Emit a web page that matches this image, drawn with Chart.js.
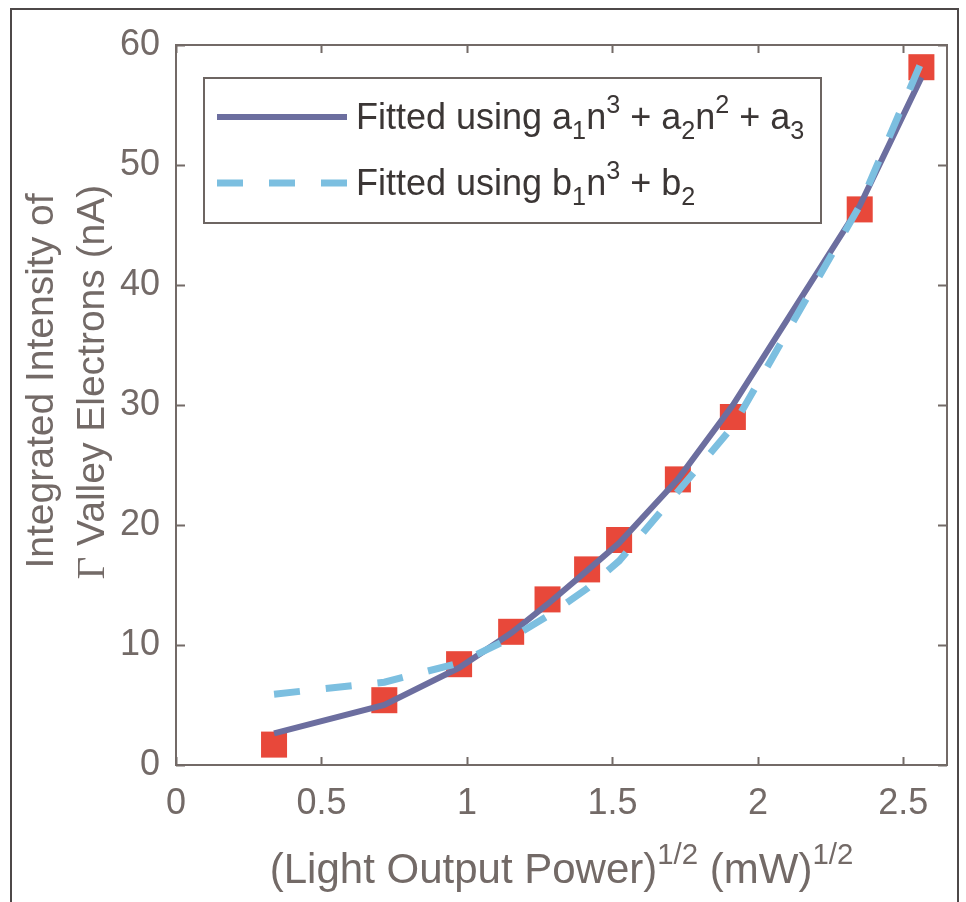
<!DOCTYPE html>
<html>
<head>
<meta charset="utf-8">
<script src="https://cdn.jsdelivr.net/npm/chart.js@4.4.1/dist/chart.umd.min.js"></script>
<style>
  html, body { margin: 0; padding: 0; background: #fff; }
  #wrap { width: 966px; height: 902px; }
</style>
</head>
<body>
<div id="wrap"><canvas id="fitChart" width="966" height="902"></canvas></div>
<script>
// values
const powerRoot = [0.337, 0.716, 0.973, 1.152, 1.277, 1.413, 1.523, 1.725, 1.914, 2.350, 2.562];
const measured = [1.7, 5.4, 8.4, 11.1, 13.8, 16.3, 18.75, 23.8, 29.0, 46.3, 58.15];
const fitA = [2.64, 5.0, 8.1, 11.0, 13.4, 16.2, 18.5, 23.8, 30.0, 46.6, 57.3];
const fitB = [5.9, 6.9, 8.5, 10.6, 12.4, 14.7, 17.0, 22.8, 28.2, 46.6, 58.6];
const xTicks = [0, 0.5, 1, 1.5, 2, 2.5];
const yTicks = [0, 10, 20, 30, 40, 50, 60];

const SANS = '"Liberation Sans", Arial, Helvetica, sans-serif';
const SERIF = '"Liberation Serif", "Times New Roman", serif';
const AXIS_GREY = '#736a67';
const TEXT_DARK = '#3b3635';
const SOLID_COLOR = '#6c6e9f';
const DASH_COLOR = '#7cbfe0';
const RED = '#e8483a';

const toPoints = ys => powerRoot.map((x, i) => ({ x: x, y: ys[i] }));

// draw text made of parts, some of them sub/superscript
function richWidth(ctx, parts, size) {
    let w = 0;
    parts.forEach(p => {
        const s = (p.sub || p.sup) ? size * 0.7 : size;
        ctx.font = s + 'px ' + (p.serif ? SERIF : SANS);
        w += ctx.measureText(p.t).width;
    });
    return w;
}

function drawRich(ctx, parts, x, y, size, align) {
    let cx = x;
    if (align === 'center') cx = x - richWidth(ctx, parts, size) / 2;
    ctx.textAlign = 'left';
    ctx.textBaseline = 'alphabetic';
    parts.forEach(p => {
        const s = (p.sub || p.sup) ? size * 0.7 : size;
        ctx.font = s + 'px ' + (p.serif ? SERIF : SANS);
        let dy = 0;
        if (p.sub) dy = size * 0.27;
        if (p.sup) dy = -size * 0.45;
        ctx.fillText(p.t, cx, y + dy);
        cx += ctx.measureText(p.t).width;
    });
}

const decorPlugin = {
    id: 'decor',
    beforeDatasetsDraw(chart) {
        const { ctx, chartArea: a, scales } = chart;
        ctx.save();
        // axes box
        ctx.strokeStyle = AXIS_GREY;
        ctx.lineWidth = 2;
        ctx.strokeRect(a.left, a.top, a.right - a.left, a.bottom - a.top);
        // inward ticks on all four sides
        ctx.beginPath();
        xTicks.forEach(v => {
            const px = Math.round(scales.x.getPixelForValue(v)) + 0.5;
            ctx.moveTo(px, a.bottom); ctx.lineTo(px, a.bottom - 8);
            ctx.moveTo(px, a.top); ctx.lineTo(px, a.top + 8);
        });
        yTicks.forEach(v => {
            const py = Math.round(scales.y.getPixelForValue(v)) + 0.5;
            ctx.moveTo(a.left, py); ctx.lineTo(a.left + 9, py);
            ctx.moveTo(a.right, py); ctx.lineTo(a.right - 9, py);
        });
        ctx.stroke();
        ctx.restore();
    },
    afterDraw(chart) {
        const { ctx, chartArea: a } = chart;
        ctx.save();

        // outer frame
        ctx.strokeStyle = '#4d4848';
        ctx.lineWidth = 2;
        ctx.beginPath();
        ctx.moveTo(11, 905); ctx.lineTo(11, 9); ctx.lineTo(958, 9); ctx.lineTo(958, 905);
        ctx.stroke();

        // x title
        ctx.fillStyle = AXIS_GREY;
        const cx = (a.left + a.right) / 2;
        drawRich(ctx, [
            { t: '(Light Output Power)' }, { t: '1/2', sup: true },
            { t: ' (mW)' }, { t: '1/2', sup: true }
        ], cx, 883, 42, 'center');

        // y title, two lines
        const yTitle1 = [{ t: 'Integrated Intensity of' }];
        const yTitle2 = [{ t: 'Γ', serif: true }, { t: ' Valley Electrons (nA)' }];
        ctx.save();
        ctx.translate(53, 381);
        ctx.rotate(-Math.PI / 2);
        drawRich(ctx, yTitle1, 0, 0, 39, 'center');
        ctx.restore();
        ctx.save();
        ctx.translate(104, 382);
        ctx.rotate(-Math.PI / 2);
        drawRich(ctx, yTitle2, 0, 0, 39, 'center');
        ctx.restore();

        // legend box
        const lx = 204, ly = 78, lw = 617, lh = 145;
        ctx.fillStyle = '#fff';
        ctx.fillRect(lx, ly, lw, lh);
        ctx.strokeStyle = '#6d6562';
        ctx.lineWidth = 2;
        ctx.strokeRect(lx, ly, lw, lh);

        const ds = chart.data.datasets;
        ctx.lineCap = 'butt';
        ctx.strokeStyle = ds[0].borderColor;
        ctx.lineWidth = ds[0].borderWidth;
        ctx.beginPath(); ctx.moveTo(217, 117); ctx.lineTo(347, 117); ctx.stroke();
        ctx.strokeStyle = ds[1].borderColor;
        ctx.lineWidth = ds[1].borderWidth;
        ctx.setLineDash(ds[1].borderDash);
        ctx.beginPath(); ctx.moveTo(217, 183); ctx.lineTo(347, 183); ctx.stroke();
        ctx.setLineDash([]);

        ctx.fillStyle = TEXT_DARK;
        drawRich(ctx, [
            { t: 'Fitted using a' }, { t: '1', sub: true }, { t: 'n' }, { t: '3', sup: true },
            { t: ' + a' }, { t: '2', sub: true }, { t: 'n' }, { t: '2', sup: true },
            { t: ' + a' }, { t: '3', sub: true }
        ], 356, 129, 36, 'left');
        drawRich(ctx, [
            { t: 'Fitted using b' }, { t: '1', sub: true }, { t: 'n' }, { t: '3', sup: true },
            { t: ' + b' }, { t: '2', sub: true }
        ], 356, 195, 36, 'left');

        ctx.restore();
    }
};

new Chart(document.getElementById('fitChart'), {
    type: 'scatter',
    data: {
        datasets: [
            {
                label: 'Fitted using a1n3 + a2n2 + a3',
                data: toPoints(fitA),
                showLine: true,
                borderColor: SOLID_COLOR,
                borderWidth: 6,
                pointRadius: 0,
                tension: 0,
                order: 2
            },
            {
                label: 'Fitted using b1n3 + b2',
                data: toPoints(fitB),
                showLine: true,
                borderColor: DASH_COLOR,
                borderWidth: 7,
                borderDash: [26, 26],
                pointRadius: 0,
                tension: 0,
                order: 1
            },
            {
                label: 'Measured',
                data: toPoints(measured),
                pointStyle: 'rect',
                pointRadius: 18.4,
                backgroundColor: RED,
                borderWidth: 0,
                order: 3
            }
        ]
    },
    options: {
        responsive: false,
        animation: false,
        events: [],
        layout: { padding: { top: 45, right: 19, left: 0, bottom: 0 } },
        plugins: {
            legend: { display: false },
            tooltip: { enabled: false },
            title: { display: false }
        },
        scales: {
            x: {
                type: 'linear',
                min: 0,
                max: 2.65,
                afterBuildTicks: scale => { scale.ticks = xTicks.map(v => ({ value: v })); },
                afterFit: scale => { scale.height = 137; },
                grid: { display: false, drawTicks: false },
                border: { display: false },
                ticks: {
                    padding: 17,
                    color: AXIS_GREY,
                    font: { family: SANS, size: 36 },
                    callback: v => String(v)
                }
            },
            y: {
                type: 'linear',
                min: 0,
                max: 60,
                afterBuildTicks: scale => { scale.ticks = yTicks.map(v => ({ value: v })); },
                afterFit: scale => { scale.width = 176; },
                grid: { display: false, drawTicks: false },
                border: { display: false },
                ticks: {
                    padding: 16,
                    color: AXIS_GREY,
                    font: { family: SANS, size: 36 },
                    callback: v => String(v)
                }
            }
        }
    },
    plugins: [decorPlugin]
});
</script>
</body>
</html>
